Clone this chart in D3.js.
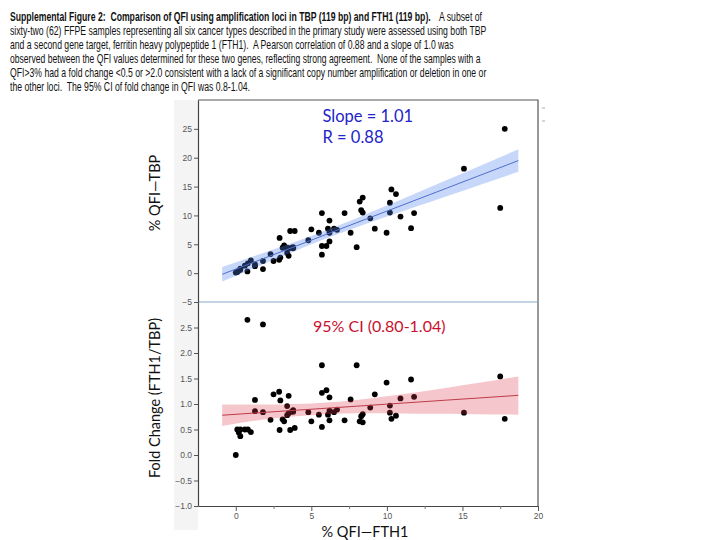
<!DOCTYPE html>
<html><head><meta charset="utf-8">
<script src="https://cdn.jsdelivr.net/npm/d3@7"></script>
<style>body{margin:0;background:#fff}svg{display:block}</style>
</head><body>
<svg id="c" width="720" height="540"></svg>
<script>
// ---- data ----
const fth1 = [0.0,0.1,0.2,0.3,0.3,0.6,0.8,0.77,1.0,1.27,1.27,1.8,1.8,2.3,2.5,2.87,2.95,2.9,3.1,3.2,3.4,3.5,3.4,3.5,3.6,3.7,3.8,3.8,3.9,4.8,5.0,5.5,5.7,5.7,5.7,6.0,6.2,6.1,6.2,6.2,6.5,6.7,7.2,7.6,8.0,8.2,8.3,8.4,8.4,8.9,9.2,9.98,10.2,10.2,10.3,10.6,10.9,11.6,11.8,15.1,17.5,17.8];
const tbp  = [0.1,0.2,0.45,0.8,0.6,1.3,1.7,0.3,2.2,1.2,1.5,0.7,2.1,3.3,2.1,2.3,2.7,6.1,4.4,4.8,3.5,3.0,4.4,4.3,7.3,4.4,4.3,4.5,7.3,5.7,7.6,7.0,3.2,4.7,10.4,4.7,5.5,7.7,7.0,9.1,7.7,7.5,10.4,7.0,4.5,12.4,10.9,10.5,13.1,9.5,7.7,7.0,10.5,12.2,14.5,13.7,9.8,7.8,10.4,18.1,11.3,25.0];
const fold = [0.0,0.50,0.44,0.37,0.50,0.50,0.50,2.65,0.45,1.08,0.86,2.56,0.84,0.69,1.19,1.24,1.07,0.49,0.70,0.66,0.96,1.16,0.78,0.82,0.49,0.85,0.88,0.85,0.53,0.84,0.66,0.79,1.76,1.22,0.55,1.27,1.13,0.79,0.87,0.68,0.84,0.89,0.68,1.09,1.76,0.66,0.76,0.80,0.64,0.93,1.19,1.42,0.97,0.83,0.71,0.77,1.11,1.48,1.14,0.83,1.54,0.71];

// fitted lines and confidence bands
const bandX      = [-0.9, 2, 4, 6, 8, 10, 12, 14, 16, 18.7];
const topFit     = [-0.2, 2.7, 4.7, 6.73, 8.74, 10.75, 12.76, 14.77, 16.78, 19.5];
const topLower   = [-1.45, 1.75, 3.92, 6.03, 7.96, 9.8, 11.59, 13.37, 15.15, 17.55];
const topUpper   = [1.05, 3.65, 5.48, 7.43, 9.52, 11.7, 13.93, 16.17, 18.41, 21.45];
const botFit     = [0.78, 0.838, 0.878, 0.917, 0.957, 0.997, 1.037, 1.077, 1.116, 1.17];
const botLower   = [0.57, 0.70, 0.76, 0.80, 0.82, 0.82, 0.81, 0.81, 0.80, 0.79];
const botUpper   = [0.99, 0.99, 1.00, 1.03, 1.08, 1.15, 1.23, 1.32, 1.41, 1.54];

const xTicks    = [0, 5, 10, 15, 20];
const xMinor    = [2.5, 7.5, 12.5, 17.5];
const topYTicks = [-5, 0, 5, 10, 15, 20, 25];
const botYTicks = [-1.0, -0.5, 0.0, 0.5, 1.0, 1.5, 2.0, 2.5];

const caption = [
  ["Supplemental Figure 2:  Comparison of QFI using amplification loci in TBP (119 bp) and FTH1 (119 bp).", "A subset of"],
  ["sixty-two (62) FFPE samples representing all six cancer types described in the primary study were assessed using both TBP"],
  ["and a second gene target, ferritin heavy polypeptide 1 (FTH1).  A Pearson correlation of 0.88 and a slope of 1.0 was"],
  ["observed between the QFI values determined for these two genes, reflecting strong agreement.  None of the samples with a"],
  ["QFI>3% had a fold change <0.5 or >2.0 consistent with a lack of a significant copy number amplification or deletion in one or"],
  ["the other loci.  The 95% CI of fold change in QFI was 0.8-1.04."]
];
const captionWidths = [[421, 43], [477], [444], [471], [477], [240]];

// ---- drawing ----
const svg = d3.select("#c");
const L = 198, R = 538, T = 100, MID = 302, B = 506;
const x = d3.scaleLinear([-2.5, 20], [L, R]);
const yT = d3.scaleLinear([-5, 30], [MID, T]);
const yB = d3.scaleLinear([-1, 3], [B, MID]);

// caption: each piece horizontally scaled to the width seen in the reference
const capFont = "'Liberation Sans',Arial,sans-serif";
function capText(str, x0, y0, w, bold) {
  const t = svg.append("text").attr("x", 0).attr("y", 0).attr("font-family", capFont).attr("font-size", 12)
    .attr("font-weight", bold ? "bold" : "normal").attr("fill", "#111").style("white-space", "pre").text(str);
  const nat = t.node().getComputedTextLength();
  t.attr("transform", `translate(${x0},${y0}) scale(${w / nat},1)`);
}
caption.forEach((parts, i) => {
  const yy = 21 + i * 14;
  if (parts.length === 2) {
    capText(parts[0], 10, yy, captionWidths[i][0], true);
    capText(parts[1], 439, yy, captionWidths[i][1], false);
  } else {
    capText(parts[0], 10, yy, captionWidths[i][0], false);
  }
});

// light gray axis strip
svg.append("rect").attr("x", 174).attr("y", T).attr("width", L - 174).attr("height", 530 - T)
  .attr("fill", "#f4f4f4");

// dots (drawn beneath translucent bands)
const gTop = svg.append("g");
gTop.selectAll("circle").data(fth1).join("circle")
  .attr("cx", d => x(d)).attr("cy", (d, i) => yT(tbp[i])).attr("r", 2.9).attr("fill", "#000");
const gBot = svg.append("g");
gBot.selectAll("circle").data(fth1).join("circle")
  .attr("cx", d => x(d)).attr("cy", (d, i) => yB(fold[i])).attr("r", 2.9).attr("fill", "#000");

// bands
const areaT = d3.area().x(d => x(d)).y0((d, i) => yT(topLower[i])).y1((d, i) => yT(topUpper[i])).curve(d3.curveMonotoneX);
svg.append("path").attr("d", areaT(bandX)).attr("fill", "rgb(80,130,235)").attr("fill-opacity", 0.32);
const lineT = d3.line().x(d => x(d)).y((d, i) => yT(topFit[i]));
svg.append("path").attr("d", lineT(bandX)).attr("fill", "none").attr("stroke", "rgb(80,110,205)").attr("stroke-width", 1);

const areaB = d3.area().x(d => x(d)).y0((d, i) => yB(botLower[i])).y1((d, i) => yB(botUpper[i])).curve(d3.curveMonotoneX);
svg.append("path").attr("d", areaB(bandX)).attr("fill", "rgb(220,50,70)").attr("fill-opacity", 0.28);
const lineB = d3.line().x(d => x(d)).y((d, i) => yB(botFit[i]));
svg.append("path").attr("d", lineB(bandX)).attr("fill", "none").attr("stroke", "rgb(190,60,75)").attr("stroke-width", 1);

// frame
svg.append("path").attr("d", `M${L},${T}H${R}V${B}`).attr("fill", "none").attr("stroke", "#555").attr("stroke-width", 1.2);
svg.append("line").attr("x1", L).attr("x2", R).attr("y1", MID).attr("y2", MID).attr("stroke", "#86a9cc").attr("stroke-width", 1.2);

// axes
function styleAxis(g) {
  g.selectAll("path.domain").attr("stroke", "#444").attr("stroke-width", 1.2);
  g.selectAll(".tick line").attr("stroke", "#555");
  g.selectAll(".tick text").attr("fill", "#555").attr("font-size", 8.5)
    .attr("font-family", "'Liberation Sans',Arial,sans-serif");
}
svg.append("g").attr("transform", `translate(${L},0)`)
  .call(d3.axisLeft(yT).tickValues(topYTicks).tickSize(4).tickSizeOuter(0).tickPadding(2).tickFormat(d3.format("d")))
  .call(styleAxis);
svg.append("g").attr("transform", `translate(${L},0)`)
  .call(d3.axisLeft(yB).tickValues(botYTicks).tickSize(4).tickSizeOuter(0).tickPadding(2).tickFormat(d3.format(".1f")))
  .call(styleAxis);
svg.append("g").attr("transform", `translate(0,${B})`)
  .call(d3.axisBottom(x).tickValues(xTicks).tickSize(5).tickSizeOuter(0).tickPadding(2).tickFormat(d3.format("d")))
  .call(styleAxis);
svg.append("g").attr("transform", `translate(0,${B})`)
  .call(d3.axisBottom(x).tickValues(xMinor).tickSize(3).tickSizeOuter(0).tickFormat(""))
  .call(g => g.select("path.domain").remove())
  .call(g => g.selectAll(".tick line").attr("stroke", "#777"));

// annotations
const lab = "Lato,'Open Sans',sans-serif";
svg.append("text").attr("x", 322.5).attr("y", 121.5).attr("font-family", lab).attr("font-size", 16.5).attr("fill", "#2323c8").text("Slope = 1.01");
svg.append("text").attr("x", 322.5).attr("y", 142.5).attr("font-family", lab).attr("font-size", 16.5).attr("fill", "#2323c8").text("R = 0.88");
svg.append("text").attr("x", 313).attr("y", 331.5).attr("font-family", lab).attr("font-size", 16).attr("fill", "#c8102e").text("95% CI (0.80-1.04)");

svg.append("text").attr("x", 365).attr("y", 537).attr("text-anchor", "middle").attr("font-family", lab).attr("font-size", 14.5).attr("fill", "#111").text("% QFI\u2014FTH1");
svg.append("text").attr("transform", "translate(159.5,193) rotate(-90)").attr("text-anchor", "middle").attr("font-family", lab).attr("font-size", 14.5).attr("fill", "#111").text("% QFI\u2014TBP");
svg.append("text").attr("transform", "translate(159.5,398) rotate(-90)").attr("text-anchor", "middle").attr("font-family", lab).attr("font-size", 14.5).attr("fill", "#111").text("Fold Change (FTH1/TBP)");

// tiny marks at top right
svg.append("line").attr("x1", 542).attr("x2", 545).attr("y1", 108).attr("y2", 108).attr("stroke", "#aaa");
svg.append("line").attr("x1", 542).attr("x2", 545).attr("y1", 121).attr("y2", 121).attr("stroke", "#aaa");
</script>
</body></html>
